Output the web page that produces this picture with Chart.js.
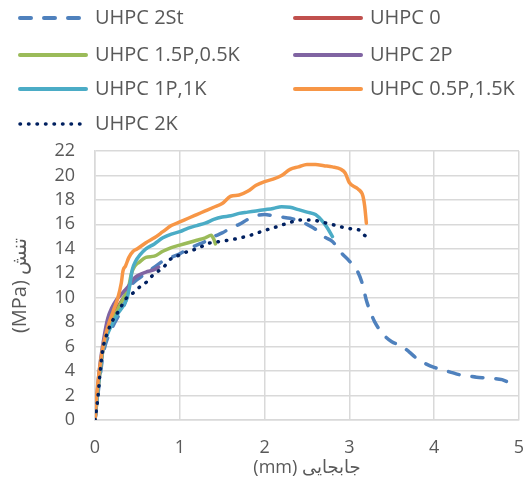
<!DOCTYPE html>
<html>
<head>
<meta charset="utf-8">
<script src="https://cdn.jsdelivr.net/npm/chart.js@4.4.1/dist/chart.umd.min.js"></script>
<style>
  body { margin: 0; background: #fff; }
  canvas { display: block; }
</style>
</head>
<body>
<canvas id="stressChart" width="525" height="481"></canvas>
<script>
// ------------------- Data -------------------
const seriesNames = ['UHPC 2St', 'UHPC 0', 'UHPC 1.5P,0.5K', 'UHPC 2P', 'UHPC 1P,1K', 'UHPC 0.5P,1.5K', 'UHPC 2K'];
const xTicks = [0, 1, 2, 3, 4, 5];
const yTicks = [0, 2, 4, 6, 8, 10, 12, 14, 16, 18, 20, 22];

// [displacement mm, stress MPa]
const uhpc2St = [[0,0],[0.05,3],[0.1,5.5],[0.2,7.5],[0.3,8.8],[0.35,9.5],[0.4,10.7],[0.45,11.2],[0.5,11.5],[0.6,12],[0.7,12.5],[0.8,13],[0.9,13.3],[1.0,13.6],[1.1,14.0],[1.2,14.3],[1.3,14.6],[1.4,15.0],[1.5,15.3],[1.6,15.7],[1.7,16.0],[1.8,16.4],[1.9,16.7],[2.0,16.8],[2.1,16.7],[2.2,16.6],[2.3,16.5],[2.4,16.3],[2.5,16.0],[2.6,15.6],[2.7,15.0],[2.8,14.6],[2.9,13.7],[3.0,13.0],[3.1,12.1],[3.15,11.2],[3.2,9.8],[3.25,8.8],[3.3,8.0],[3.4,7.0],[3.5,6.4],[3.6,6.1],[3.7,5.6],[3.8,5.0],[3.9,4.6],[4.0,4.3],[4.1,4.1],[4.2,3.9],[4.3,3.7],[4.4,3.6],[4.5,3.5],[4.6,3.45],[4.7,3.4],[4.8,3.3],[4.9,3.0],[4.98,2.8]];
const uhpc0 = [[0,0],[0.05,3.5],[0.1,6],[0.2,8.3],[0.3,9.6],[0.36,10.2]];
const uhpc15P05K = [[0,0],[0.05,3.5],[0.1,6],[0.2,8],[0.3,9.5],[0.36,10.3],[0.4,11],[0.43,12],[0.47,12.6],[0.52,12.9],[0.6,13.3],[0.7,13.4],[0.8,13.8],[0.9,14.1],[1.0,14.3],[1.1,14.5],[1.2,14.7],[1.3,14.9],[1.37,15.1],[1.4,14.8],[1.42,14.4]];
const uhpc2P = [[0,0],[0.05,4],[0.1,6.5],[0.15,8.3],[0.2,9.2],[0.25,9.8],[0.3,10.2],[0.35,10.6],[0.4,11],[0.45,11.5],[0.5,11.8],[0.6,12.1],[0.7,12.3],[0.75,12.5]];
const uhpc1P1K = [[0,0],[0.05,3.5],[0.1,6],[0.2,7.8],[0.27,8.7],[0.33,9.3],[0.38,10],[0.41,11],[0.44,12.3],[0.48,13],[0.53,13.5],[0.6,14],[0.7,14.4],[0.8,14.9],[0.9,15.2],[1.0,15.4],[1.1,15.7],[1.2,15.9],[1.3,16.1],[1.4,16.4],[1.5,16.6],[1.6,16.7],[1.7,16.9],[1.8,17.0],[1.9,17.1],[2.0,17.2],[2.1,17.3],[2.2,17.45],[2.3,17.4],[2.4,17.2],[2.5,17.0],[2.6,16.8],[2.7,16.1],[2.75,15.6],[2.8,15.0]];
const uhpc05P15K = [[0,0],[0.02,2],[0.05,4],[0.1,6.2],[0.15,7.6],[0.22,9],[0.27,10],[0.31,11.2],[0.33,12.2],[0.36,12.6],[0.4,13.3],[0.45,13.8],[0.5,14],[0.6,14.5],[0.7,14.9],[0.8,15.4],[0.9,15.9],[1.0,16.2],[1.1,16.5],[1.2,16.8],[1.3,17.1],[1.4,17.4],[1.5,17.7],[1.6,18.3],[1.7,18.4],[1.8,18.7],[1.9,19.2],[2.0,19.5],[2.1,19.7],[2.2,20.0],[2.3,20.5],[2.4,20.7],[2.5,20.9],[2.6,20.9],[2.7,20.8],[2.8,20.7],[2.9,20.5],[2.95,20.2],[3.0,19.4],[3.1,18.9],[3.16,18.3],[3.18,17.5],[3.2,16.1]];
const uhpc2K = [[0,0],[0.035,1.9],[0.055,3.5],[0.09,5.7],[0.13,6.8],[0.19,7.9],[0.25,8.6],[0.31,9.3],[0.35,9.8],[0.41,10.2],[0.47,10.5],[0.53,10.9],[0.61,11.3],[0.69,11.9],[0.81,12.5],[0.88,13.1],[1.0,13.5],[1.1,13.8],[1.2,14.0],[1.34,14.45],[1.47,14.6],[1.65,14.8],[1.83,15.1],[2.0,15.5],[2.14,15.8],[2.32,16.2],[2.42,16.35],[2.54,16.35],[2.73,16.1],[2.93,15.75],[3.05,15.6],[3.13,15.5],[3.18,15.1],[3.26,14.8]];

const seriesData = [uhpc2St, uhpc0, uhpc15P05K, uhpc2P, uhpc1P1K, uhpc05P15K, uhpc2K];
const seriesColors = ['#4F81BD', '#C0504D', '#9BBB59', '#8064A2', '#4BACC6', '#F79646', '#002060'];
const seriesDash = [[11, 13], [], [], [], [], [], [0.5, 8]];

const FONT = "'Open Sans', 'DejaVu Sans', sans-serif";
const TEXT_COLOR = '#595959';

// ------------------- Legend drawn in two columns above the plot -------------------
const twoColumnLegend = {
    id: 'twoColumnLegend',
    afterDraw(chart) {
        const ctx = chart.ctx;
        const colX = [18, 293];
        const rowY = [18, 55, 89, 124];
        ctx.save();
        ctx.font = '20px ' + FONT;
        ctx.textBaseline = 'middle';
        ctx.fillStyle = TEXT_COLOR;
        chart.data.datasets.forEach((ds, i) => {
            const x = colX[i % 2];
            const y = rowY[Math.floor(i / 2)];
            ctx.beginPath();
            ctx.strokeStyle = ds.borderColor;
            ctx.lineWidth = i === 6 ? 3.5 : 4;
            ctx.lineCap = 'round';
            ctx.setLineDash(ds.borderDash);
            ctx.moveTo(x + 2, y);
            ctx.lineTo(x + 68, y);
            ctx.stroke();
            ctx.setLineDash([]);
            ctx.fillText(ds.label, x + 77, y);
        });
        ctx.restore();
    }
};

const datasets = seriesNames.map((name, i) => ({
    label: name,
    data: seriesData[i].map(p => ({ x: p[0], y: p[1] })),
    borderColor: seriesColors[i],
    backgroundColor: seriesColors[i],
    borderWidth: 3.5,
    borderDash: seriesDash[i],
    borderCapStyle: 'round',
    borderJoinStyle: 'round',
    pointRadius: 0,
    cubicInterpolationMode: 'monotone',
    fill: false,
    order: seriesNames.length - i
}));

new Chart(document.getElementById('stressChart'), {
    type: 'line',
    data: { datasets },
    options: {
        responsive: false,
        animation: false,
        layout: { padding: { top: 151, left: 0, right: 6, bottom: 0 } },
        plugins: { legend: { display: false }, tooltip: { enabled: false } },
        scales: {
            x: {
                type: 'linear',
                min: 0, max: 5,
                afterBuildTicks: s => { s.ticks = xTicks.map(v => ({ value: v })); },
                afterFit: s => { s.height = 61; s.paddingLeft = 0; s.paddingRight = 0; },
                grid: { color: '#d9d9d9', lineWidth: 1.5, drawTicks: false },
                border: { color: '#d9d9d9', width: 1.5 },
                ticks: { color: TEXT_COLOR, font: { family: FONT, size: 18 }, padding: 17, maxRotation: 0, autoSkip: false },
                title: { display: true, text: '(mm) جابجایی', color: TEXT_COLOR, font: { family: FONT, size: 18 }, padding: { top: 0, bottom: 2 } }
            },
            y: {
                min: 0, max: 22,
                afterBuildTicks: s => { s.ticks = yTicks.map(v => ({ value: v })); },
                afterFit: s => { s.width = 95; s.paddingTop = 0; s.paddingBottom = 0; },
                grid: { color: '#d9d9d9', lineWidth: 1.5, drawTicks: false },
                border: { color: '#d9d9d9', width: 1.5 },
                ticks: { color: TEXT_COLOR, font: { family: FONT, size: 18 }, padding: 20, autoSkip: false },
                title: { display: true, text: '(MPa) تنش', color: TEXT_COLOR, font: { family: FONT, size: 20 }, padding: { top: 8, bottom: 0 } }
            }
        }
    },
    plugins: [twoColumnLegend]
});
</script>
</body>
</html>
